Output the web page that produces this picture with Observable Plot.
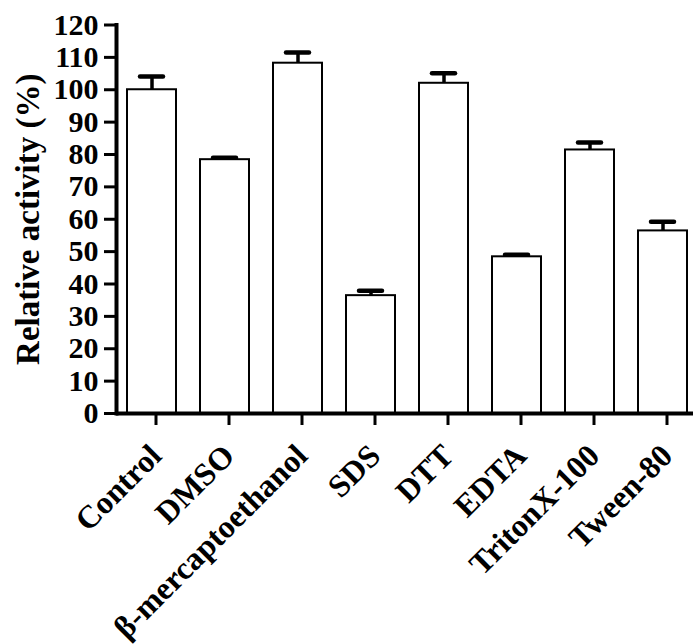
<!DOCTYPE html>
<html>
<head>
<meta charset="utf-8">
<script src="https://cdn.jsdelivr.net/npm/d3@7"></script>
<script src="https://cdn.jsdelivr.net/npm/@observablehq/plot@0.6"></script>
<style>
  html, body { margin: 0; padding: 0; background: white; }
  svg { display: block; }
</style>
</head>
<body>
<div id="chart"></div>
<script>
const categories = ["Control", "DMSO", "β-mercaptoethanol", "SDS", "DTT", "EDTA", "TritonX-100", "Tween-80"];
const activity = [100.0, 78.4, 108.2, 36.4, 102.0, 48.4, 81.4, 56.4];
const errorUp = [4.1, 0.6, 3.3, 1.5, 3.1, 0.6, 2.3, 2.8];
const yTicks = [0, 10, 20, 30, 40, 50, 60, 70, 80, 90, 100, 110, 120];

const data = categories.map((c, i) => ({name: c, value: activity[i], hi: activity[i] + errorUp[i]}));

const font = "'Liberation Serif', 'Times New Roman', serif";

const chart = Plot.plot({
  width: 693,
  height: 644,
  marginTop: 24.5,
  marginBottom: 231,
  marginLeft: 116,
  marginRight: 0,
  style: {fontFamily: font, fontWeight: "bold", background: "white"},
  x: {domain: categories, range: [115.2, 699.2], paddingInner: 0.333, paddingOuter: 0.1665, label: null},
  y: {domain: [0, 120], label: null},
  marks: [
    Plot.barY(data, {x: "name", y: "value", fill: "white", stroke: "black", strokeWidth: 2}),
    Plot.ruleX(data, {x: "name", y1: "value", y2: "hi", stroke: "black", strokeWidth: 3.5}),
    Plot.tickY(data, {x: "name", y: "hi", stroke: "black", strokeWidth: 4.5, strokeLinecap: "round", inset: 13}),
    Plot.axisY({ticks: yTicks, tickSize: 12, tickPadding: 6, fontSize: 30, strokeWidth: 3, tickFormat: d => String(d), label: null}),
    Plot.axisX({tickSize: 12, strokeWidth: 3, tickRotate: -45, fontSize: 32, tickPadding: 25, dx: 4, label: null}),
    Plot.ruleY([0], {stroke: "black", strokeWidth: 4}),
    Plot.frame({anchor: "left", stroke: "black", strokeWidth: 4}),
    Plot.text(["Relative activity (%)"], {frameAnchor: "left", textAnchor: "middle", dx: -88, dy: 0, rotate: -90, fontSize: 33, fontWeight: "bold", fill: "black", text: d => d})
  ]
});
document.getElementById("chart").appendChild(chart);
</script>
</body>
</html>
